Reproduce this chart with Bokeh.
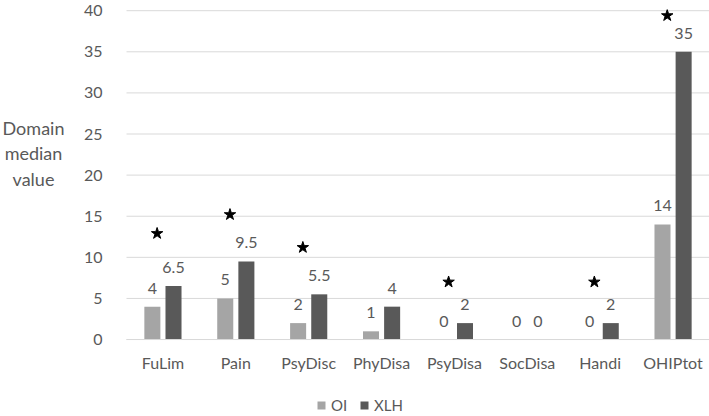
from bokeh.plotting import figure
from bokeh.models import ColumnDataSource, Label, Legend, LegendItem, FixedTicker, Range1d
from bokeh.transform import dodge
from bokeh.core.properties import value
from bokeh.embed import file_html
from bokeh.resources import INLINE

categories = ["FuLim", "Pain", "PsyDisc", "PhyDisa", "PsyDisa", "SocDisa", "Handi", "OHIPtot"]
oi_values = [4, 5, 2, 1, 0, 0, 0, 14]
xlh_values = [6.5, 9.5, 5.5, 4, 2, 0, 2, 35]
star_categories = ["FuLim", "Pain", "PsyDisc", "PsyDisa", "Handi", "OHIPtot"]
star_heights = [12.9, 15.2, 11.2, 7.0, 7.0, 39.4]
y_ticks = [0, 5, 10, 15, 20, 25, 30, 35, 40]
y_title = "Domain\nmedian\nvalue"

FONT = "Lato"
TEXT_COLOR = "#595959"
OI_COLOR = "#A5A5A5"
XLH_COLOR = "#595959"
GRID_COLOR = "#D9D9D9"

# category slots are placed at 0.5, 1.5, ... on the x scale
x_centers = [i + 0.5 for i in range(len(categories))]
src = ColumnDataSource(dict(
    xc=x_centers,
    oi=oi_values,
    xlh=xlh_values,
    oi_lab=[f"{v:g}" for v in oi_values],
    xlh_lab=[f"{v:g}" for v in xlh_values],
))
star_src = ColumnDataSource(dict(
    xc=[categories.index(c) + 0.5 for c in star_categories], y=star_heights))
grid_src = ColumnDataSource(dict(y=y_ticks, x0=[0] * len(y_ticks),
                                 x1=[len(categories)] * len(y_ticks)))

W, H = 709, 416
p = figure(width=W, height=H, x_range=Range1d(-1.729, len(categories)),
           y_range=Range1d(-9.36, 41.24), output_backend="svg", toolbar_location=None,
           min_border_left=0, min_border_right=0, min_border_top=0, min_border_bottom=0)
p.outline_line_color = None
p.background_fill_color = "white"
p.border_fill_color = "white"
p.xgrid.grid_line_color = None
p.ygrid.grid_line_color = None

# horizontal grid lines over the category area only
p.segment(x0="x0", x1="x1", y0="y", y1="y", source=grid_src, line_color=GRID_COLOR,
          line_width=1)

off = 0.145
bw = 0.22
r_oi = p.vbar(x=dodge("xc", -off), top="oi", width=bw, source=src,
              fill_color=OI_COLOR, line_color=None)
r_xlh = p.vbar(x=dodge("xc", off), top="xlh", width=bw, source=src,
               fill_color=XLH_COLOR, line_color=None)

p.text(x=dodge("xc", -off), y="oi", text="oi_lab", source=src,
       text_align="center", text_baseline="bottom", y_offset=-13,
       text_font=value(FONT), text_font_size="16px", text_color=TEXT_COLOR)
p.text(x=dodge("xc", off), y="xlh", text="xlh_lab", source=src,
       text_align="center", text_baseline="bottom", y_offset=-13,
       text_font=value(FONT), text_font_size="16px", text_color=TEXT_COLOR)

p.scatter(x=dodge("xc", -0.08), y="y", source=star_src, marker="star",
          size=12, fill_color="black", line_color="black")

# y axis, drawn at the left edge of the category area
yax = p.yaxis[0]
yax.fixed_location = 0
yax.ticker = FixedTicker(ticks=y_ticks)
yax.axis_line_color = None
yax.major_tick_line_color = None
yax.minor_tick_line_color = None
yax.major_label_standoff = 18
yax.major_label_text_font = FONT
yax.major_label_text_font_size = "16px"
yax.major_label_text_color = TEXT_COLOR

# x axis at y = 0 with the category names
xax = p.xaxis[0]
xax.fixed_location = 0
xax.bounds = (0, len(categories))
xax.ticker = FixedTicker(ticks=x_centers)
xax.major_label_overrides = {xc: c for xc, c in zip(x_centers, categories)}
xax.axis_line_color = GRID_COLOR
xax.major_tick_line_color = None
xax.minor_tick_line_color = None
xax.major_label_standoff = 7
xax.major_label_text_font = FONT
xax.major_label_text_font_size = "16px"
xax.major_label_text_color = TEXT_COLOR

title = Label(x=33, y=H - 153, x_units="screen", y_units="screen", text=y_title,
              text_align="center", text_baseline="middle", text_font=FONT,
              text_font_size="18px", text_color=TEXT_COLOR, text_line_height=1.17)
p.add_layout(title)

legend = Legend(items=[LegendItem(label="OI", renderers=[r_oi]),
                       LegendItem(label="XLH", renderers=[r_xlh])],
                location=(316, 2), orientation="horizontal",
                glyph_width=10, glyph_height=10, label_height=18, label_width=20,
                label_standoff=5, spacing=8, padding=0, margin=0,
                border_line_color=None, background_fill_alpha=0,
                label_text_font=FONT, label_text_font_size="15px",
                label_text_color=TEXT_COLOR)
p.add_layout(legend)

open("out.html", "w").write(file_html(p, INLINE))
